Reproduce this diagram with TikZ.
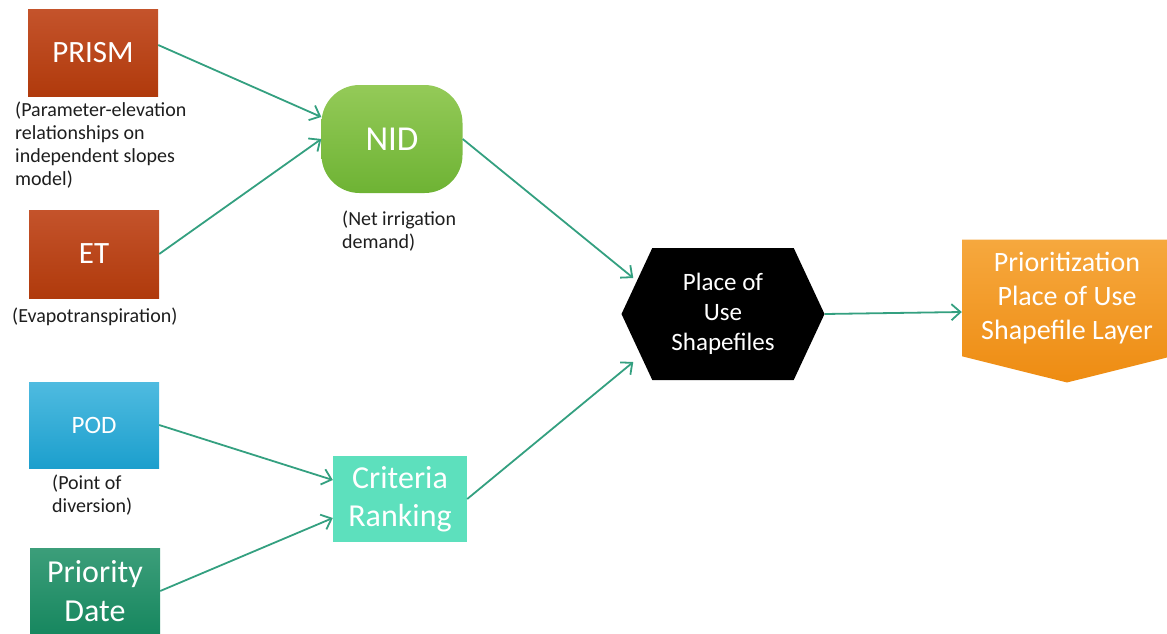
\documentclass[tikz,border=0pt]{standalone}
\usepackage{fontspec}
\setmainfont{Carlito}
\usetikzlibrary{positioning,arrows.meta,calc,shapes.symbols}
\definecolor{rust}{HTML}{C4532B}
\definecolor{rustDark}{HTML}{B03A0C}
\definecolor{leaf}{HTML}{94CA58}
\definecolor{leafDark}{HTML}{6EB334}
\definecolor{sky}{HTML}{4FBBE0}
\definecolor{skyDark}{HTML}{1C9FCD}
\definecolor{pine}{HTML}{3C9E7A}
\definecolor{pineDark}{HTML}{17875F}
\definecolor{mint}{HTML}{5DE0BD}
\definecolor{amber}{HTML}{F6A83E}
\definecolor{amberDark}{HTML}{EE8C12}
\definecolor{link}{HTML}{34A080}
\definecolor{note}{HTML}{1E1E1E}

\begin{document}
\begin{tikzpicture}[x=1pt,y=-1pt,
    box/.style={inner sep=0pt,minimum width=130pt,minimum height=86pt,
                text=white,align=center},
    notetext/.style={inner sep=0pt,anchor=north west,align=left,text=note,
                     font=\fontsize{20}{23}\selectfont},
    flow/.style={draw=link,line width=1.8pt,
                 -{Straight Barb[length=9pt,width=16pt,line width=1.8pt]}}]
  \useasboundingbox (0,0) rectangle (1167,634);

  % inputs
  \node[box,top color=rust,bottom color=rustDark,
        font=\fontsize{31}{36}\selectfont] (prism) at (93,53) {PRISM};
  \node[box,top color=rust,bottom color=rustDark,minimum height=88pt,
        font=\fontsize{31}{36}\selectfont] (et) at (94,254) {ET};
  \node[box,top color=sky,bottom color=skyDark,
        font=\fontsize{25}{30}\selectfont] (pod) at (94,425) {POD};
  \node[box,top color=pine,bottom color=pineDark,
        font=\fontsize{32}{39}\selectfont] (prio) at (95,591) {Priority\\Date};

  \node[notetext] (prismnote) at (15,102)
    {(Parameter-elevation\\relationships on\\independent slopes\\model)};
  \node[notetext] (etnote) at (12,308) {(Evapotranspiration)};
  \node[notetext] (podnote) at (52,475) {(Point of\\diversion)};

  % middle
  \node[box,rounded corners=38pt,minimum width=141pt,minimum height=108pt,
        top color=leaf,bottom color=leafDark,
        font=\fontsize{35}{40}\selectfont] (nid) at (392,139) {NID};
  \node[notetext] (nidnote) at (342,211) {(Net irrigation\\demand)};
  \node[box,fill=mint,minimum width=134pt,
        font=\fontsize{32}{38}\selectfont] (crit) at (400,499) {Criteria\\Ranking};

  % outputs
  \node[shape=signal,signal to=west and east,signal pointer angle=130,
        fill=black,text=white,align=center,inner sep=0pt,
        minimum width=203pt,minimum height=132pt,
        font=\fontsize{25}{30}\selectfont] (hex) at (723,314)
    {Place of\\Use\\Shapefiles};
  \node[shape=signal,signal to=south,signal pointer angle=152,
        top color=amber,bottom color=amberDark,text=white,align=center,
        inner sep=0pt,minimum width=210pt,minimum height=138pt,
        font=\fontsize{28}{34}\selectfont] (layer) at (1067,298)
    {Prioritization\\Place of Use\\Shapefile Layer};

  \draw[flow] ([yshift=8pt]prism.east) -- ([yshift=22pt]nid.west);
  \draw[flow] (et.east) -- (nid.west);
  \draw[flow] (nid.east) -- ([shift={(12pt,36pt)}]hex.west);
  \draw[flow] (pod.east) -- ([yshift=19pt]crit.west);
  \draw[flow] (prio.east) -- ([yshift=-19pt]crit.west);
  \draw[flow] (crit.east) -- ([shift={(12pt,-48pt)}]hex.west);
  \draw[flow] (hex.east) -- ([yshift=-14pt]layer.west);
\end{tikzpicture}
\end{document}
